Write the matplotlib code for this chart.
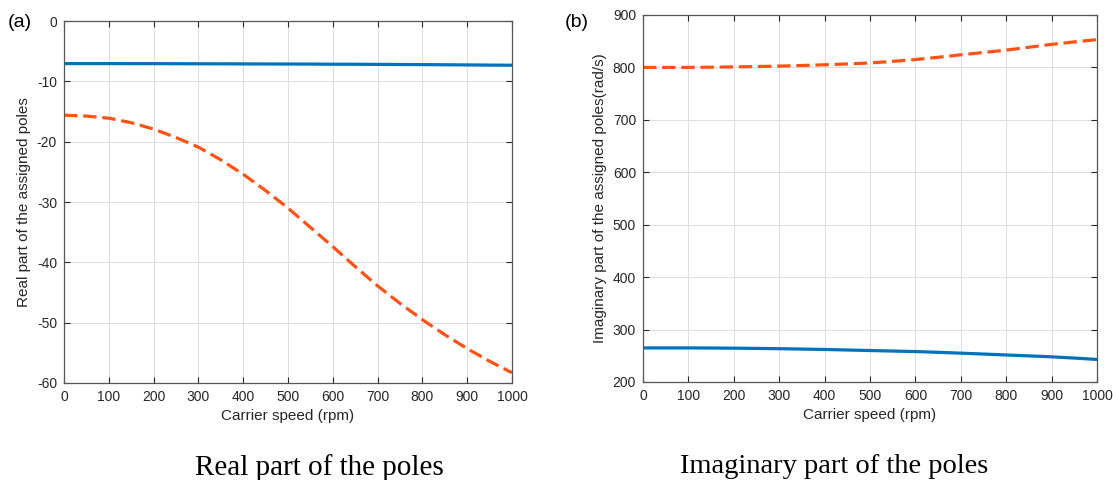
import numpy as np
import matplotlib
matplotlib.use("Agg")
import matplotlib.pyplot as plt

# carrier speed (rpm)
speed = [0, 50, 100, 150, 200, 250, 300, 350, 400, 450, 500,
         550, 600, 650, 700, 750, 800, 850, 900, 950, 1000]

# real part of the assigned poles
real_p1 = [-7.05, -7.05, -7.05, -7.06, -7.06, -7.07, -7.08, -7.09, -7.1, -7.11, -7.12,
           -7.13, -7.15, -7.16, -7.18, -7.2, -7.22, -7.24, -7.27, -7.3, -7.32]
real_p2 = [-15.6, -15.75, -16.1, -16.85, -17.9, -19.3, -20.9, -23.0, -25.4, -28.1, -31.0,
           -34.2, -37.4, -40.7, -43.9, -46.8, -49.5, -52.0, -54.3, -56.4, -58.3]

# imaginary part of the assigned poles (rad/s)
imag_p1 = [265, 265, 265, 264.8, 264.5, 264, 263.5, 262.8, 262, 261, 260,
           259, 258, 256.6, 255, 253.3, 251.5, 249.8, 248, 245.6, 243]
imag_p2 = [800, 800, 800, 800.4, 801, 801.6, 802.5, 803.6, 805, 806.6, 808.5,
           811.5, 815, 819.3, 824, 828.4, 833, 838.4, 844, 848.6, 853]

blue = "#0072BD"
orange = "#FF5214"
plt.rcParams["font.family"] = ["Liberation Sans", "DejaVu Sans"]
plt.rcParams["axes.unicode_minus"] = False

fig = plt.figure(figsize=(11.13, 4.8), dpi=100)
ax1 = fig.add_axes([0.0575, 0.2021, 0.4025, 0.754])
ax2 = fig.add_axes([0.5777, 0.2042, 0.4079, 0.7646])


def style(ax):
    ax.set_xlim(0, 1000)
    ax.set_xticks(range(0, 1001, 100))
    ax.grid(True, color="#dcdcdc", lw=0.7)
    ax.tick_params(direction="in", top=True, right=True, labelsize=10,
                   length=4, width=0.8, colors="#262626", pad=5)
    for s in ax.spines.values():
        s.set_color("#555555")
        s.set_linewidth(0.9)
    ax.set_xlabel("Carrier speed (rpm)", fontsize=11, color="#262626", labelpad=4)


ax1.plot(speed, real_p1, color=blue, lw=2.3)
ax1.plot(speed, real_p2, color=orange, lw=2.3, dashes=(4.2, 1.8))
ax1.set_ylim(-60, 0)
ax1.set_yticks(range(-60, 1, 10))
style(ax1)
ax1.set_ylabel("Real part of the assigned poles", fontsize=11, color="#262626", labelpad=4)

ax2.plot(speed, imag_p2, color=orange, lw=2.3, dashes=(4.2, 1.8))
ax2.plot(speed, imag_p1, color=blue, lw=2.3)
ax2.set_ylim(200, 900)
ax2.set_yticks(range(200, 901, 100))
style(ax2)
ax2.set_ylabel("Imaginary part of the assigned poles(rad/s)", fontsize=11, color="#262626", labelpad=4)

fig.text(0.007, 0.954, "(a)", fontsize=14, va="center", ha="left")
fig.text(0.5076, 0.954, "(b)", fontsize=14, va="center", ha="left")

fig.text(0.2866, 0.011, "Real part of the poles", fontsize=21,
         family=["Liberation Serif"], ha="center", va="baseline")
fig.text(0.7497, 0.015, "Imaginary part of the poles", fontsize=20.5,
         family=["Liberation Serif"], ha="center", va="baseline")

fig.savefig("out.png", dpi=100)
